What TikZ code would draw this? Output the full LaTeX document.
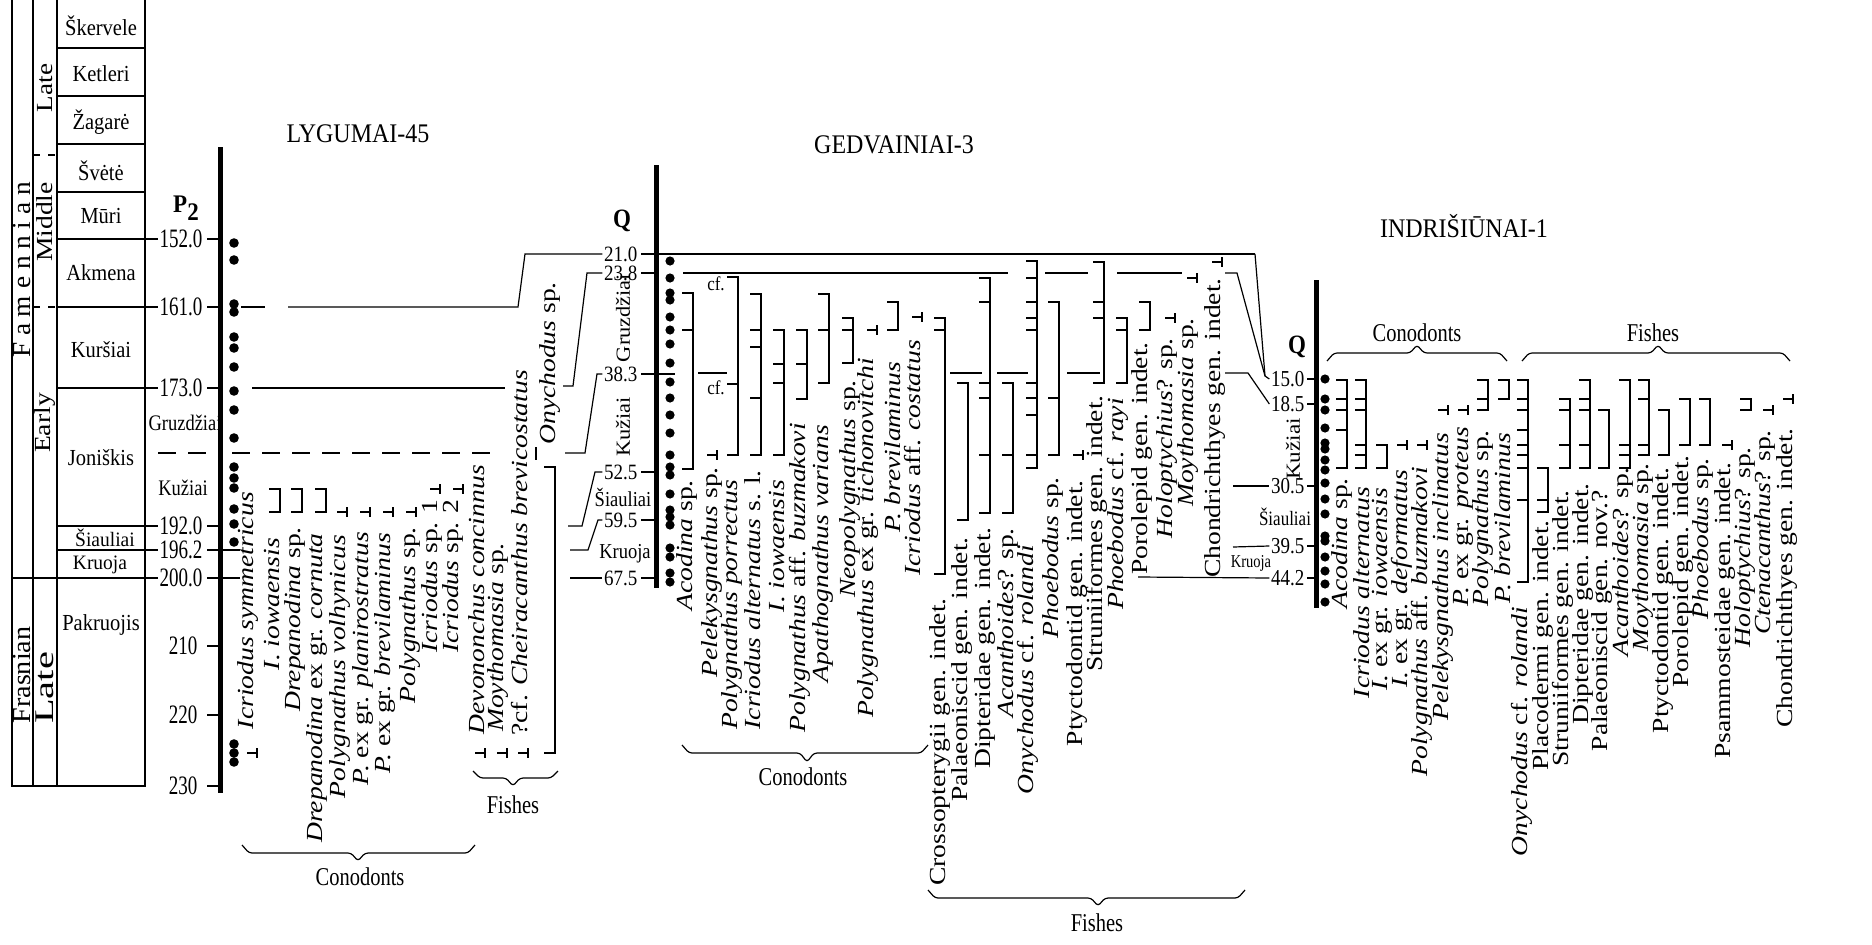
\documentclass[tikz,border=0pt]{standalone}
\usepackage{fontspec}
\setmainfont{Liberation Serif}
\tikzset{
  cl/.style={line width=1.2pt},
  rbar/.style={line width=2.6pt},
  ax/.style={line width=5pt},
  sp/.style={rotate=90,anchor=east,inner sep=0pt,font=\fontsize{23}{23}\selectfont},
  dl/.style={anchor=east,inner sep=1.5pt,font=\fontsize{19}{19}\selectfont},
  st/.style={inner sep=0pt,font=\fontsize{20.5}{20.5}\selectfont},
  sst/.style={inner sep=0pt,font=\fontsize{18.5}{18.5}\selectfont},
  ttl/.style={inner sep=0pt,font=\fontsize{24}{24}\selectfont},
  grp/.style={inner sep=0pt,font=\fontsize{20.5}{20.5}\selectfont},
  bq/.style={inner sep=0pt,font=\fontsize{23}{23}\selectfont\bfseries},
}
\newcommand{\SP}[4]{\node[sp] (#1) at (#2,#3) {\scalebox{1.2}[1]{#4}};}
\newcommand{\RNG}[4]{\draw[rbar,line join=miter] (#1-11,#2) -- (#1,#2) -- (#1,#3) -- (#1-11,#3);
  \foreach \yy in {#4} {\draw[rbar] (#1-11,\yy) -- (#1,\yy);}}
\newcommand{\SGL}[2]{\draw[rbar] (#1-10,#2) -- (#1,#2); \draw[rbar] (#1,#2-5) -- (#1,#2+5);}
\newcommand{\VS}[2]{\scalebox{1}[#1]{#2}}
\newcommand{\BRC}[6]{\draw[cl,rounded corners=3pt] (#1,#5) -- (#1+7,#4) -- (#3-7,#4) -- (#3,#6) -- (#3+7,#4) -- (#2-7,#4) -- (#2,#5);}
\begin{document}
\begin{tikzpicture}[x=1pt,y=-1pt]
\fill[white] (0,0) rectangle (1872,945);
\useasboundingbox (0,0) rectangle (1872,945);

% ---------------- stratigraphic column ----------------
\draw[cl] (12,0) -- (12,786) -- (145,786) -- (145,0);
\draw[cl] (33,0) -- (33,786);
\draw[cl] (57,0) -- (57,786);
\foreach \yy in {48,96,144,192} \draw[cl] (57,\yy) -- (145,\yy);
\draw[cl,dash pattern=on 7pt off 8pt] (33,155) -- (57,155);
\draw[cl,dash pattern=on 7pt off 8pt] (33,307) -- (57,307);

\node[rotate=90,inner sep=0pt,font=\fontsize{26}{26}\selectfont] (fam) at (22,270) {\scalebox{1.05}[1]{F a m e n n i a n}};
\node[rotate=90,inner sep=0pt,font=\fontsize{26}{26}\selectfont] (fra) at (22,675) {\scalebox{1.08}[1]{Frasnian}};
\node[rotate=90,inner sep=0pt,font=\fontsize{23}{23}\selectfont] (late1) at (45,88) {\scalebox{1.18}[1]{Late}};
\node[rotate=90,inner sep=0pt,font=\fontsize{23}{23}\selectfont] (mid) at (45,222) {\scalebox{1.2}[1]{Middle}};
\node[rotate=90,inner sep=0pt,font=\fontsize{23}{23}\selectfont] (early) at (45,423) {\scalebox{1.2}[1]{Early}};
\node[rotate=90,inner sep=0pt,font=\fontsize{27}{27}\selectfont] (late2) at (45,688) {\scalebox{1.5}[1]{Late}};

\node[st] (s1) at (101,26) {\VS{1.12}{Škervele}};
\node[st] (s2) at (101,74) {\VS{1.12}{Ketleri}};
\node[st] (s3) at (101,122) {\VS{1.12}{Žagarė}};
\node[st] (s4) at (101,171) {\VS{1.12}{Švėtė}};
\node[st] (s5) at (101,216) {\VS{1.12}{Mūri}};
\node[st] (s6) at (101,273) {\VS{1.12}{Akmena}};
\node[st] (s7) at (101,350) {\VS{1.12}{Kuršiai}};
\node[st] (s8) at (101,458) {\VS{1.12}{Joniškis}};
\node[inner sep=0pt,font=\fontsize{19.5}{19.5}\selectfont] (s9) at (105,538) {\VS{1.05}{Šiauliai}};
\node[inner sep=0pt,font=\fontsize{19.5}{19.5}\selectfont] (s10) at (100,565) {\VS{1.05}{Kruoja}};
\node[st] (s11) at (101,625) {\VS{1.12}{Pakruojis}};

% ---------------- LYGUMAI-45 ----------------
\node[ttl] (tL) at (358,134) {\VS{1.12}{LYGUMAI-45}};
\node[bq] (p2) at (186,208) {\VS{1.1}{P\raisebox{-0.3em}{2}}};
\draw[ax] (220.5,147) -- (220.5,793);
\node[dl] (ld152) at (204,239) {\VS{1.4}{152.0}};
\node[dl] (ld161) at (204,307) {\VS{1.4}{161.0}};
\node[dl] (ld173) at (204,388) {\VS{1.4}{173.0}};
\node[dl] (ld192) at (204,526) {\VS{1.4}{192.0}};
\node[dl] (ld196) at (204,550) {\VS{1.4}{196.2}};
\node[dl] (ld200) at (204,578) {\VS{1.4}{200.0}};
\node[dl] (ld210) at (199,646) {\VS{1.4}{210}};
\node[dl] (ld220) at (199,715) {\VS{1.4}{220}};
\node[dl] (ld230) at (199,786) {\VS{1.4}{230}};
\foreach \yy in {239,307,388,526,550,578,646,715,786} \draw[cl] (207,\yy) -- (220,\yy);
\draw[cl] (57,239) -- (ld152.west);
\draw[cl] (57,307) -- (ld161.west);
\draw[cl] (57,388) -- (ld173.west);
\draw[cl] (57,526) -- (ld192.west);
\draw[cl] (57,550) -- (ld196.west);
\draw[cl] (12,578) -- (ld200.west);
\node[sst] (lgr) at (185,423) {\VS{1.2}{Gruzdžiai}};
\node[sst] (lku) at (183,488) {\VS{1.2}{Kužiai}};
\draw[cl,dash pattern=on 18pt off 12pt] (158,453) -- (210,453);
\draw[cl,dash pattern=on 18pt off 12pt] (232,453) -- (492,453);
\draw[cl] (536,447) -- (536,460);
\draw[cl] (223,550) -- (240,550);
\draw[cl] (223,578) -- (240,578);
\draw[cl] (241,307) -- (265,307);

\foreach \yy in {243,260,304,312,337,348,367,391,410,438,467,478,488,509,524,542,744,753,762}
  \fill (234,\yy) circle (4.8pt);

\SP{l1}{248}{492}{\textit{Icriodus symmetricus}}
\SP{l2}{272}{538}{\textit{I. iowaensis}}
\SP{l3}{295}{527}{\textit{Drepanodina} sp.}
\SP{l4}{317}{533}{\textit{Drepanodina} ex gr. \textit{cornuta}}
\SP{l5}{340}{535}{\textit{Polygnathus volhynicus}}
\SP{l6}{363}{532}{\textit{P.} ex gr. \textit{planirostratus}}
\SP{l7}{385}{533}{\textit{P.} ex gr. \textit{brevilaminus}}
\SP{l8}{410}{527}{\textit{Polygnathus} sp.}
\SP{l9}{432}{499}{\textit{Icriodus} sp. 1}
\SP{l10}{453}{499}{\textit{Icriodus} sp. 2}
\SP{l11}{477}{465}{\textit{Devononchus concinnus}}
\SP{l12}{498}{543}{\textit{Moythomasia} sp.}
\SP{l13}{520}{370}{?cf. \textit{Cheiracanthus brevicostatus}}
\SP{l14}{550}{282}{\textit{Onychodus} sp.}

\SGL{257}{753}
\RNG{280}{489}{512}{489,512}
\RNG{302}{489}{512}{489,512}
\RNG{326}{489}{512}{489,512}
\SGL{347}{512}
\SGL{370}{512}
\SGL{393}{512}
\SGL{416}{512}
\SGL{440}{489}
\SGL{463}{489}
\SGL{485}{753}
\SGL{507}{753}
\SGL{528}{753}
\RNG{555}{467}{753}{467,753}

\BRC{242}{475}{358}{853}{845}{861}
\node[grp] (lcon) at (360,877) {\VS{1.25}{Conodonts}};
\BRC{473}{558}{513}{778}{771}{786}
\node[grp] (lfis) at (513,805) {\VS{1.25}{Fishes}};

% ---------------- GEDVAINIAI-3 ----------------
\node[ttl] (tG) at (894,145) {\VS{1.12}{GEDVAINIAI-3}};
\node[bq] (qG) at (622,221) {\VS{1.15}{Q}};
\draw[ax] (656,165) -- (656,588);
\node[dl] (gd210) at (639,254) {\VS{1.15}{21.0}};
\node[dl] (gd238) at (639,273) {\VS{1.15}{23.8}};
\node[dl] (gd383) at (639,374) {\VS{1.15}{38.3}};
\node[dl] (gd525) at (639,472) {\VS{1.15}{52.5}};
\node[dl] (gd595) at (639,520) {\VS{1.15}{59.5}};
\node[dl] (gd675) at (639,578) {\VS{1.15}{67.5}};
\foreach \yy in {273,472,520,578} \draw[cl] (641,\yy) -- (655,\yy);
\draw[cl] (641,254) -- (1255,254);
\draw[cl] (641,374) -- (675,374);
\node[rotate=90,inner sep=0pt,font=\fontsize{20}{20}\selectfont] (ggr) at (623,318) {\scalebox{1.12}[1]{Gruzdžiai}};
\node[rotate=90,inner sep=0pt,font=\fontsize{20}{20}\selectfont] (gku) at (623,427) {\scalebox{1.12}[1]{Kužiai}};
\node[sst] (gsi) at (623,497) {\VS{1.15}{Šiauliai}};
\node[sst] (gkr) at (625,554) {\VS{1.15}{Kruoja}};

% correlation Lygumai -> Gedvainiai
\draw[cl] (288,307) -- (518,307) -- (525,254) -- (gd210.west);
\draw[cl] (252,388) -- (505,388);
\draw[cl] (563,386) -- (573,386) -- (587,273) -- (gd238.west);
\draw[cl] (565,453) -- (585,453) -- (597,374) -- (gd383.west);
\draw[cl] (568,526) -- (582,526) -- (595,472) -- (gd525.west);
\draw[cl] (570,550) -- (588,550) -- (598,520) -- (gd595.west);
\draw[cl] (570,578) -- (gd675.west);

\foreach \yy in {261,278,293,300,317,330,344,363,382,398,415,433,455,467,475,494,510,517,525,548,557,573,582}
  \fill (670,\yy) circle (4.6pt);

% lines right of Gedvainiai
\draw[cl] (683,273) -- (1008,273);
\draw[cl] (1045,273) -- (1088,273);
\draw[cl] (1117,273) -- (1182,273);
\draw[cl] (698,373) -- (727,373);
\draw[cl] (950,373) -- (982,373);
\draw[cl] (997,373) -- (1028,373);
\draw[cl] (1067,373) -- (1100,373);

\SP{g1}{687}{480}{\textit{Acodina} sp.}
\SP{g2}{712}{467}{\textit{Pelekysgnathus} sp.}
\SP{g3}{732}{480}{\textit{Polygnathus porrectus}}
\SP{g4}{753}{470}{\textit{Icriodus alternatus} s. l.}
\SP{g5}{777}{480}{\textit{I. iowaensis}}
\SP{g6}{800}{423}{\textit{Polygnathus} aff. \textit{buzmakovi}}
\SP{g7}{823}{425}{\textit{Apathognathus varians}}
\SP{g8}{850}{380}{\textit{Neopolygnathus} sp.}
\SP{g9}{868}{358}{\textit{Polygnathus} ex gr. \textit{tichonovitchi}}
\SP{g10}{893}{362}{\textit{P. brevilaminus}}
\SP{g11}{913}{340}{\textit{Icriodus} aff. \textit{costatus}}
\SP{g12}{940}{598}{Crossopterygii gen. indet.}
\SP{g13}{962}{537}{Palaeoniscid gen. indet.}
\SP{g14}{985}{527}{Dipteridae gen. indet.}
\SP{g15}{1008}{528}{\textit{Acanthoides}? sp.}
\SP{g16}{1028}{545}{\textit{Onychodus} cf. \textit{rolandi}}
\SP{g17}{1053}{477}{\textit{Phoebodus} sp.}
\SP{g18}{1077}{480}{Ptyctodontid gen. indet.}
\SP{g19}{1097}{395}{Struniiformes gen. indet.}
\SP{g20}{1118}{398}{\textit{Phoebodus} cf. \textit{rayi}}
\SP{g21}{1142}{342}{Porolepid gen. indet.}
\SP{g22}{1167}{338}{\textit{Holoptychius}? sp.}
\SP{g23}{1188}{318}{\textit{Moythomasia} sp.}
\SP{g24}{1215}{278}{Chondrichthyes gen. indet.}

\node[inner sep=0pt,font=\fontsize{17}{17}\selectfont] (cf1) at (716,284) {\VS{1.15}{cf.}};
\node[inner sep=0pt,font=\fontsize{17}{17}\selectfont] (cf2) at (716,388) {\VS{1.15}{cf.}};

\RNG{693}{293}{469}{293,330,469}
\SGL{717}{455}
\RNG{738}{277}{455}{277,384,455}
\RNG{761}{294}{455}{294,330,347,398,455}
\RNG{784}{330}{455}{330,364,383,455}
\RNG{807}{330}{399}{330,364,399}
\RNG{829}{294}{383}{294,330,383}
\RNG{853}{318}{363}{318,330,363}
\SGL{877}{330}
\RNG{898}{302}{330}{302,330}
\SGL{922}{317}
\RNG{945}{318}{574}{318,330,574}
\RNG{968}{383}{520}{383,520}
\RNG{990}{278}{513}{278,302,383,398,455,513}
\RNG{1013}{383}{513}{383,455,513}
\RNG{1037}{261}{468}{261,278,302,318,330,383,398,415,455,468}
\RNG{1059}{302}{455}{302,398,455}
\SGL{1083}{455}
\RNG{1104}{262}{383}{262,302,318,383}
\RNG{1127}{318}{383}{318,330,383}
\RNG{1150}{302}{330}{302,330}
\SGL{1175}{318}
\SGL{1197}{278}
\SGL{1222}{262}

\BRC{682}{928}{807}{753}{745}{762}
\node[grp] (gcon) at (803,777) {\VS{1.25}{Conodonts}};
\BRC{928}{1245}{1098}{898}{890}{906}
\node[grp] (gfis) at (1097,923) {\VS{1.25}{Fishes}};

% ---------------- INDRIŠIŪNAI-1 ----------------
\node[ttl] (tI) at (1464,226) {\VS{1.12}{INDRIŠIŪNAI-1}};
\node[bq] (qI) at (1297,347) {\VS{1.15}{Q}};
\draw[ax] (1316,280) -- (1316,608);
\node[dl] (id150) at (1306,379) {\VS{1.2}{15.0}};
\node[dl] (id185) at (1306,404) {\VS{1.2}{18.5}};
\node[dl] (id305) at (1306,486) {\VS{1.2}{30.5}};
\node[dl] (id395) at (1306,546) {\VS{1.2}{39.5}};
\node[dl] (id442) at (1306,578) {\VS{1.2}{44.2}};
\foreach \yy in {379,404,486,546,578} \draw[cl] (1307,\yy) -- (1315,\yy);
\node[rotate=90,inner sep=0pt,font=\fontsize{20}{20}\selectfont] (iku) at (1293,449) {\scalebox{1.15}[1]{Kužiai}};
\node[inner sep=0pt,font=\fontsize{17}{17}\selectfont] (isi) at (1285,517) {\VS{1.2}{Šiauliai}};
\node[inner sep=0pt,font=\fontsize{14.5}{14.5}\selectfont] (ikr) at (1251,563) {\VS{1.25}{Kruoja}};

% correlation Gedvainiai -> Indrisiunai
\coordinate (m15) at (1265,376);
\draw[cl] (1255,254) -- (m15) -- (id150.west);
\draw[cl] (1225,273) -- (1237,273) -- (m15);
\draw[cl] (1225,373) -- (1248,373) -- (id185.west);
\draw[cl] (1233,486) -- (id305.west);
\draw[cl] (1233,547) -- (id395.west);
\draw[cl] (1138,577) -- (id442.west);

\foreach \yy in {379,399,410,428,443,449,460,470,483,499,514,536,541,557,571,584,602}
  \fill (1325,\yy) circle (4.6pt);

\SP{i1}{1342}{478}{\textit{Acodina} sp.}
\SP{i2}{1362}{487}{\textit{Icriodus alternatus}}
\SP{i3}{1382}{488}{\textit{I.} ex gr. \textit{iowaensis}}
\SP{i4}{1402}{470}{\textit{I.} ex gr. \textit{deformatus}}
\SP{i5}{1422}{467}{\textit{Polygnathus} aff. \textit{buzmakovi}}
\SP{i6}{1443}{433}{\textit{Pelekysgnathus inclinatus}}
\SP{i7}{1463}{427}{\textit{P.} ex gr. \textit{proteus}}
\SP{i8}{1483}{430}{\textit{Polygnathus} sp.}
\SP{i9}{1503}{433}{\textit{P. brevilaminus}}
\SP{i10}{1522}{607}{\textit{Onychodus} cf. \textit{rolandi}}
\SP{i11}{1543}{520}{Placodermi gen. indet.}
\SP{i12}{1563}{490}{Struniiformes gen. indet.}
\SP{i13}{1583}{483}{Dipteridae gen. indet.}
\SP{i14}{1602}{490}{Palaeoniscid gen. nov.?}
\SP{i15}{1623}{467}{\textit{Acanthoides}? sp.}
\SP{i16}{1643}{463}{\textit{Moythomasia} sp.}
\SP{i17}{1663}{467}{Ptyctodontid gen. indet.}
\SP{i18}{1683}{455}{Porolepid gen. indet.}
\SP{i19}{1703}{458}{\textit{Phoebodus} sp.}
\SP{i20}{1725}{462}{Psammosteidae gen. indet.}
\SP{i21}{1745}{447}{\textit{Holoptychius}? sp.}
\SP{i22}{1765}{430}{\textit{Ctenacanthus}? sp.}
\SP{i23}{1787}{428}{Chondrichthyes gen. indet.}

\RNG{1347}{380}{468}{380,399,410,430,468}
\RNG{1366}{380}{468}{380,399,410,445,455,468}
\RNG{1387}{445}{468}{445,468}
\SGL{1407}{445}
\SGL{1427}{445}
\SGL{1448}{410}
\SGL{1468}{410}
\RNG{1488}{380}{410}{380,399,410}
\RNG{1509}{380}{399}{380,399}
\RNG{1528}{380}{582}{380,399,410,430,445,455,468,500,582}
\RNG{1548}{468}{512}{468,500,512}
\RNG{1570}{399}{468}{399,410,445,468}
\RNG{1590}{380}{468}{380,399,410,445,468}
\RNG{1609}{410}{468}{410,468}
\RNG{1630}{380}{468}{380,445,455,468}
\RNG{1649}{380}{455}{380,399,445,455}
\RNG{1669}{410}{455}{410,455}
\RNG{1690}{399}{445}{399,445}
\RNG{1710}{399}{445}{399,445}
\SGL{1732}{445}
\RNG{1751}{399}{410}{399,410}
\SGL{1773}{410}
\SGL{1793}{399}

\BRC{1327}{1507}{1417}{353}{361}{345}
\node[grp] (icon) at (1417,333) {\VS{1.25}{Conodonts}};
\BRC{1522}{1790}{1658}{353}{361}{345}
\node[grp] (ifis) at (1653,333) {\VS{1.25}{Fishes}};
\end{tikzpicture}
\end{document}
